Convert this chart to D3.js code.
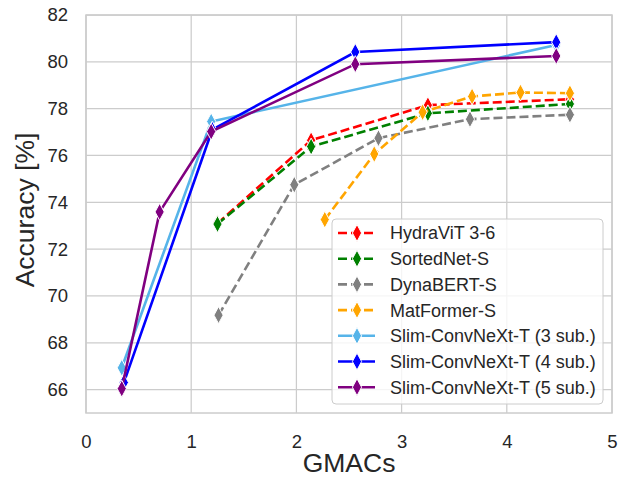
<!DOCTYPE html>
<html>
<head>
<meta charset="utf-8">
<script src="https://cdn.jsdelivr.net/npm/d3@7"></script>
<style>
  body { margin: 0; background: #fff; }
  text { font-family: "Liberation Sans", Arial, sans-serif; fill: #262626; }
</style>
</head>
<body>
<div id="chart"></div>
<script>
// series names, colours, dashed or not
const names = ["HydraViT 3-6", "SortedNet-S", "DynaBERT-S", "MatFormer-S",
  "Slim-ConvNeXt-T (3 sub.)", "Slim-ConvNeXt-T (4 sub.)", "Slim-ConvNeXt-T (5 sub.)"];
const colors = ["#ff0000", "#008000", "#808080", "#ffa500", "#56b4e9", "#0000ff", "#800080"];
const dashed = [true, true, true, true, false, false, false];

// GMACs / accuracy values per series
const hydraX = [1.25, 2.14, 3.25, 4.6];
const hydraY = [73.1, 76.65, 78.15, 78.4];
const sortedX = [1.25, 2.14, 3.25, 4.6];
const sortedY = [73.07, 76.38, 77.8, 78.2];
const dynaX = [1.26, 1.98, 2.78, 3.65, 4.6];
const dynaY = [69.18, 74.75, 76.74, 77.55, 77.74];
const matX = [2.27, 2.74, 3.2, 3.67, 4.13, 4.6];
const matY = [73.26, 76.06, 77.85, 78.52, 78.69, 78.66];
const slim3X = [0.34, 1.19, 4.47];
const slim3Y = [66.93, 77.45, 80.72];
const slim4X = [0.36, 1.2, 2.56, 4.47];
const slim4Y = [66.3, 77.1, 80.42, 80.84];
const slim5X = [0.34, 0.7, 1.19, 2.56, 4.47];
const slim5Y = [66.04, 73.59, 77.02, 79.9, 80.25];

const xTicks = [0, 1, 2, 3, 4, 5];
const yTicks = [66, 68, 70, 72, 74, 76, 78, 80, 82];

const seriesX = [hydraX, sortedX, dynaX, matX, slim3X, slim4X, slim5X];
const seriesY = [hydraY, sortedY, dynaY, matY, slim3Y, slim4Y, slim5Y];

const width = 627, height = 477;
const margin = {top: 15, right: 15, bottom: 64, left: 86};

const svg = d3.select("#chart").append("svg")
  .attr("width", width).attr("height", height);

const x = d3.scaleLinear().domain([0, 5]).range([margin.left, width - margin.right]);
const y = d3.scaleLinear().domain([65, 82]).range([height - margin.bottom, margin.top]);

// grid
svg.append("g").selectAll("line").data(xTicks).enter().append("line")
  .attr("x1", d => x(d)).attr("x2", d => x(d))
  .attr("y1", y(65)).attr("y2", y(82))
  .attr("stroke", "#cccccc").attr("stroke-width", 1.25);
svg.append("g").selectAll("line").data(yTicks).enter().append("line")
  .attr("x1", x(0)).attr("x2", x(5))
  .attr("y1", d => y(d)).attr("y2", d => y(d))
  .attr("stroke", "#cccccc").attr("stroke-width", 1.25);

// frame
svg.append("rect")
  .attr("x", x(0)).attr("y", y(82))
  .attr("width", x(5) - x(0)).attr("height", y(65) - y(82))
  .attr("fill", "none").attr("stroke", "#cccccc").attr("stroke-width", 1.5);

// axes (labels only)
const xAxis = svg.append("g")
  .attr("transform", `translate(0,${y(65)})`)
  .call(d3.axisBottom(x).tickValues(xTicks).tickSize(0).tickPadding(22).tickFormat(d3.format("d")));
const yAxis = svg.append("g")
  .attr("transform", `translate(${x(0)},0)`)
  .call(d3.axisLeft(y).tickValues(yTicks).tickSize(0).tickPadding(18).tickFormat(d3.format("d")));
[xAxis, yAxis].forEach(a => {
  a.select(".domain").remove();
  a.selectAll("text").style("font-size", "18.5px").attr("fill", "#262626");
});

svg.append("text")
  .attr("x", x(2.5)).attr("y", 472)
  .attr("text-anchor", "middle").style("font-size", "26.5px")
  .text("GMACs");
svg.append("text")
  .attr("transform", `translate(34,210) rotate(-90)`)
  .attr("text-anchor", "middle").style("font-size", "26.5px")
  .text("Accuracy [%]");

const diamond = "M0,-8.5L4.6,0L0,8.5L-4.6,0Z";

// lines and markers
const line = d3.line().x(d => x(d[0])).y(d => y(d[1]));
names.forEach((n, i) => {
  const pts = seriesX[i].map((v, j) => [v, seriesY[i][j]]);
  const g = svg.append("g");
  g.append("path").datum(pts)
    .attr("d", line).attr("fill", "none")
    .attr("stroke", colors[i]).attr("stroke-width", 2.6)
    .attr("stroke-dasharray", dashed[i] ? "9,4" : null);
  g.selectAll("path.m").data(pts).enter().append("path")
    .attr("class", "m")
    .attr("d", diamond)
    .attr("transform", d => `translate(${x(d[0])},${y(d[1])})`)
    .attr("fill", colors[i]).attr("stroke", "#fff").attr("stroke-width", 1);
});

// legend
const lg = svg.append("g").attr("transform", "translate(332,219)");
lg.append("rect")
  .attr("width", 271).attr("height", 185).attr("rx", 4)
  .attr("fill", "#fff").attr("fill-opacity", 0.8)
  .attr("stroke", "#cccccc").attr("stroke-width", 1);
names.forEach((n, i) => {
  const ry = 14 + i * 25.7;
  lg.append("line")
    .attr("x1", 6).attr("x2", 43).attr("y1", ry).attr("y2", ry)
    .attr("stroke", colors[i]).attr("stroke-width", 2.6)
    .attr("stroke-dasharray", dashed[i] ? "9,4" : null);
  lg.append("path").attr("d", diamond)
    .attr("transform", `translate(25,${ry})`)
    .attr("fill", colors[i]).attr("stroke", "#fff").attr("stroke-width", 1);
  lg.append("text")
    .attr("x", 58).attr("y", ry).attr("dy", "0.36em")
    .style("font-size", "18px")
    .text(n);
});
</script>
</body>
</html>
